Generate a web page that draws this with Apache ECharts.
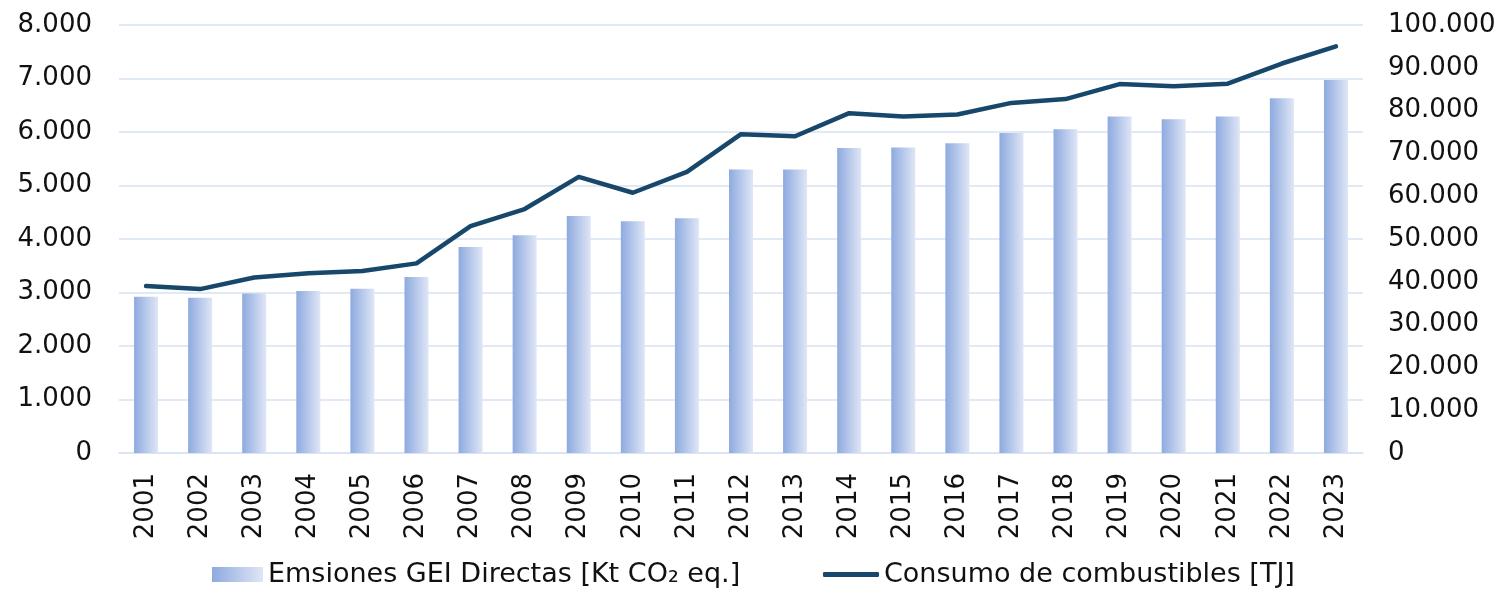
<!DOCTYPE html>
<html>
<head>
<meta charset="utf-8">
<script src="https://cdn.jsdelivr.net/npm/echarts@6/dist/echarts.min.js"></script>
<style>
  html, body { margin: 0; padding: 0; background: #fff; }
  #chart { width: 1503px; height: 591px; }
</style>
</head>
<body>
<div id="chart"></div>
<script>
var years = ['2001','2002','2003','2004','2005','2006','2007','2008','2009','2010','2011','2012',
             '2013','2014','2015','2016','2017','2018','2019','2020','2021','2022','2023'];
// Kt CO2 eq.
var emisiones = [2920, 2900, 2980, 3030, 3070, 3290, 3850, 4070, 4430, 4330, 4390, 5300,
                 5300, 5700, 5710, 5790, 5980, 6050, 6290, 6240, 6290, 6630, 6970];
// TJ
var consumo = [39000, 38300, 41000, 42000, 42500, 44300, 53000, 57000, 64500, 60800, 65700, 74500,
               74000, 79400, 78600, 79100, 81800, 82700, 86200, 85700, 86300, 91000, 95000];

var nameBar = 'Emsiones GEI Directas [Kt CO\u2082 eq.]';
var nameLine = 'Consumo de combustibles [TJ]';

function miles(v) {
    return String(v).replace(/\B(?=(\d{3})+(?!\d))/g, '.');
}

var fontFam = '"DejaVu Sans", Verdana, sans-serif';
var gridColor = '#d9e2f3';
var barGrad = new echarts.graphic.LinearGradient(0, 0, 1, 0, [
    { offset: 0, color: '#8eaadf' },
    { offset: 1, color: '#dfe6f6' }
]);

var chart = echarts.init(document.getElementById('chart'));

var option = {
    animation: false,
    textStyle: { fontFamily: fontFam },
    grid: { left: 119, right: 140, top: 25, bottom: 138, containLabel: false },
    legend: [{
        left: 212, top: 561, padding: 0,
        itemWidth: 51, itemHeight: 15, itemGap: 0,
        textStyle: { fontSize: 27, color: '#111', fontFamily: fontFam },
        data: [{ name: nameBar, icon: 'rect' }]
    }, {
        left: 823, top: 561, padding: 0,
        itemWidth: 56, itemHeight: 5,
        textStyle: { fontSize: 27, color: '#111', fontFamily: fontFam },
        data: [{ name: nameLine, icon: 'roundRect' }]
    }],
    xAxis: {
        type: 'category',
        data: years,
        boundaryGap: true,
        axisTick: { show: false },
        axisLine: { show: true, lineStyle: { color: gridColor, width: 1.5 } },
        axisLabel: { rotate: 90, margin: 20, fontSize: 26, color: '#111', fontFamily: fontFam }
    },
    yAxis: [{
        type: 'value',
        min: 0, max: 8000, interval: 1000,
        axisLine: { show: false },
        axisTick: { show: false },
        splitLine: { lineStyle: { color: gridColor, width: 1.5 } },
        axisLabel: { fontSize: 26, color: '#111', margin: 27, fontFamily: fontFam, formatter: miles }
    }, {
        type: 'value',
        min: 0, max: 100000, interval: 10000,
        position: 'right',
        axisLine: { show: false },
        axisTick: { show: false },
        splitLine: { show: false },
        axisLabel: { fontSize: 26, color: '#111', margin: 25, fontFamily: fontFam, formatter: miles }
    }],
    series: [{
        name: nameBar,
        type: 'bar',
        yAxisIndex: 0,
        barWidth: 24,
        itemStyle: { color: barGrad },
        data: emisiones
    }, {
        name: nameLine,
        type: 'line',
        yAxisIndex: 1,
        symbol: 'none',
        lineStyle: { color: '#17476a', width: 4.5, cap: 'round', join: 'round' },
        itemStyle: { color: '#17476a' },
        data: consumo
    }]
};

chart.setOption(option);
</script>
</body>
</html>
